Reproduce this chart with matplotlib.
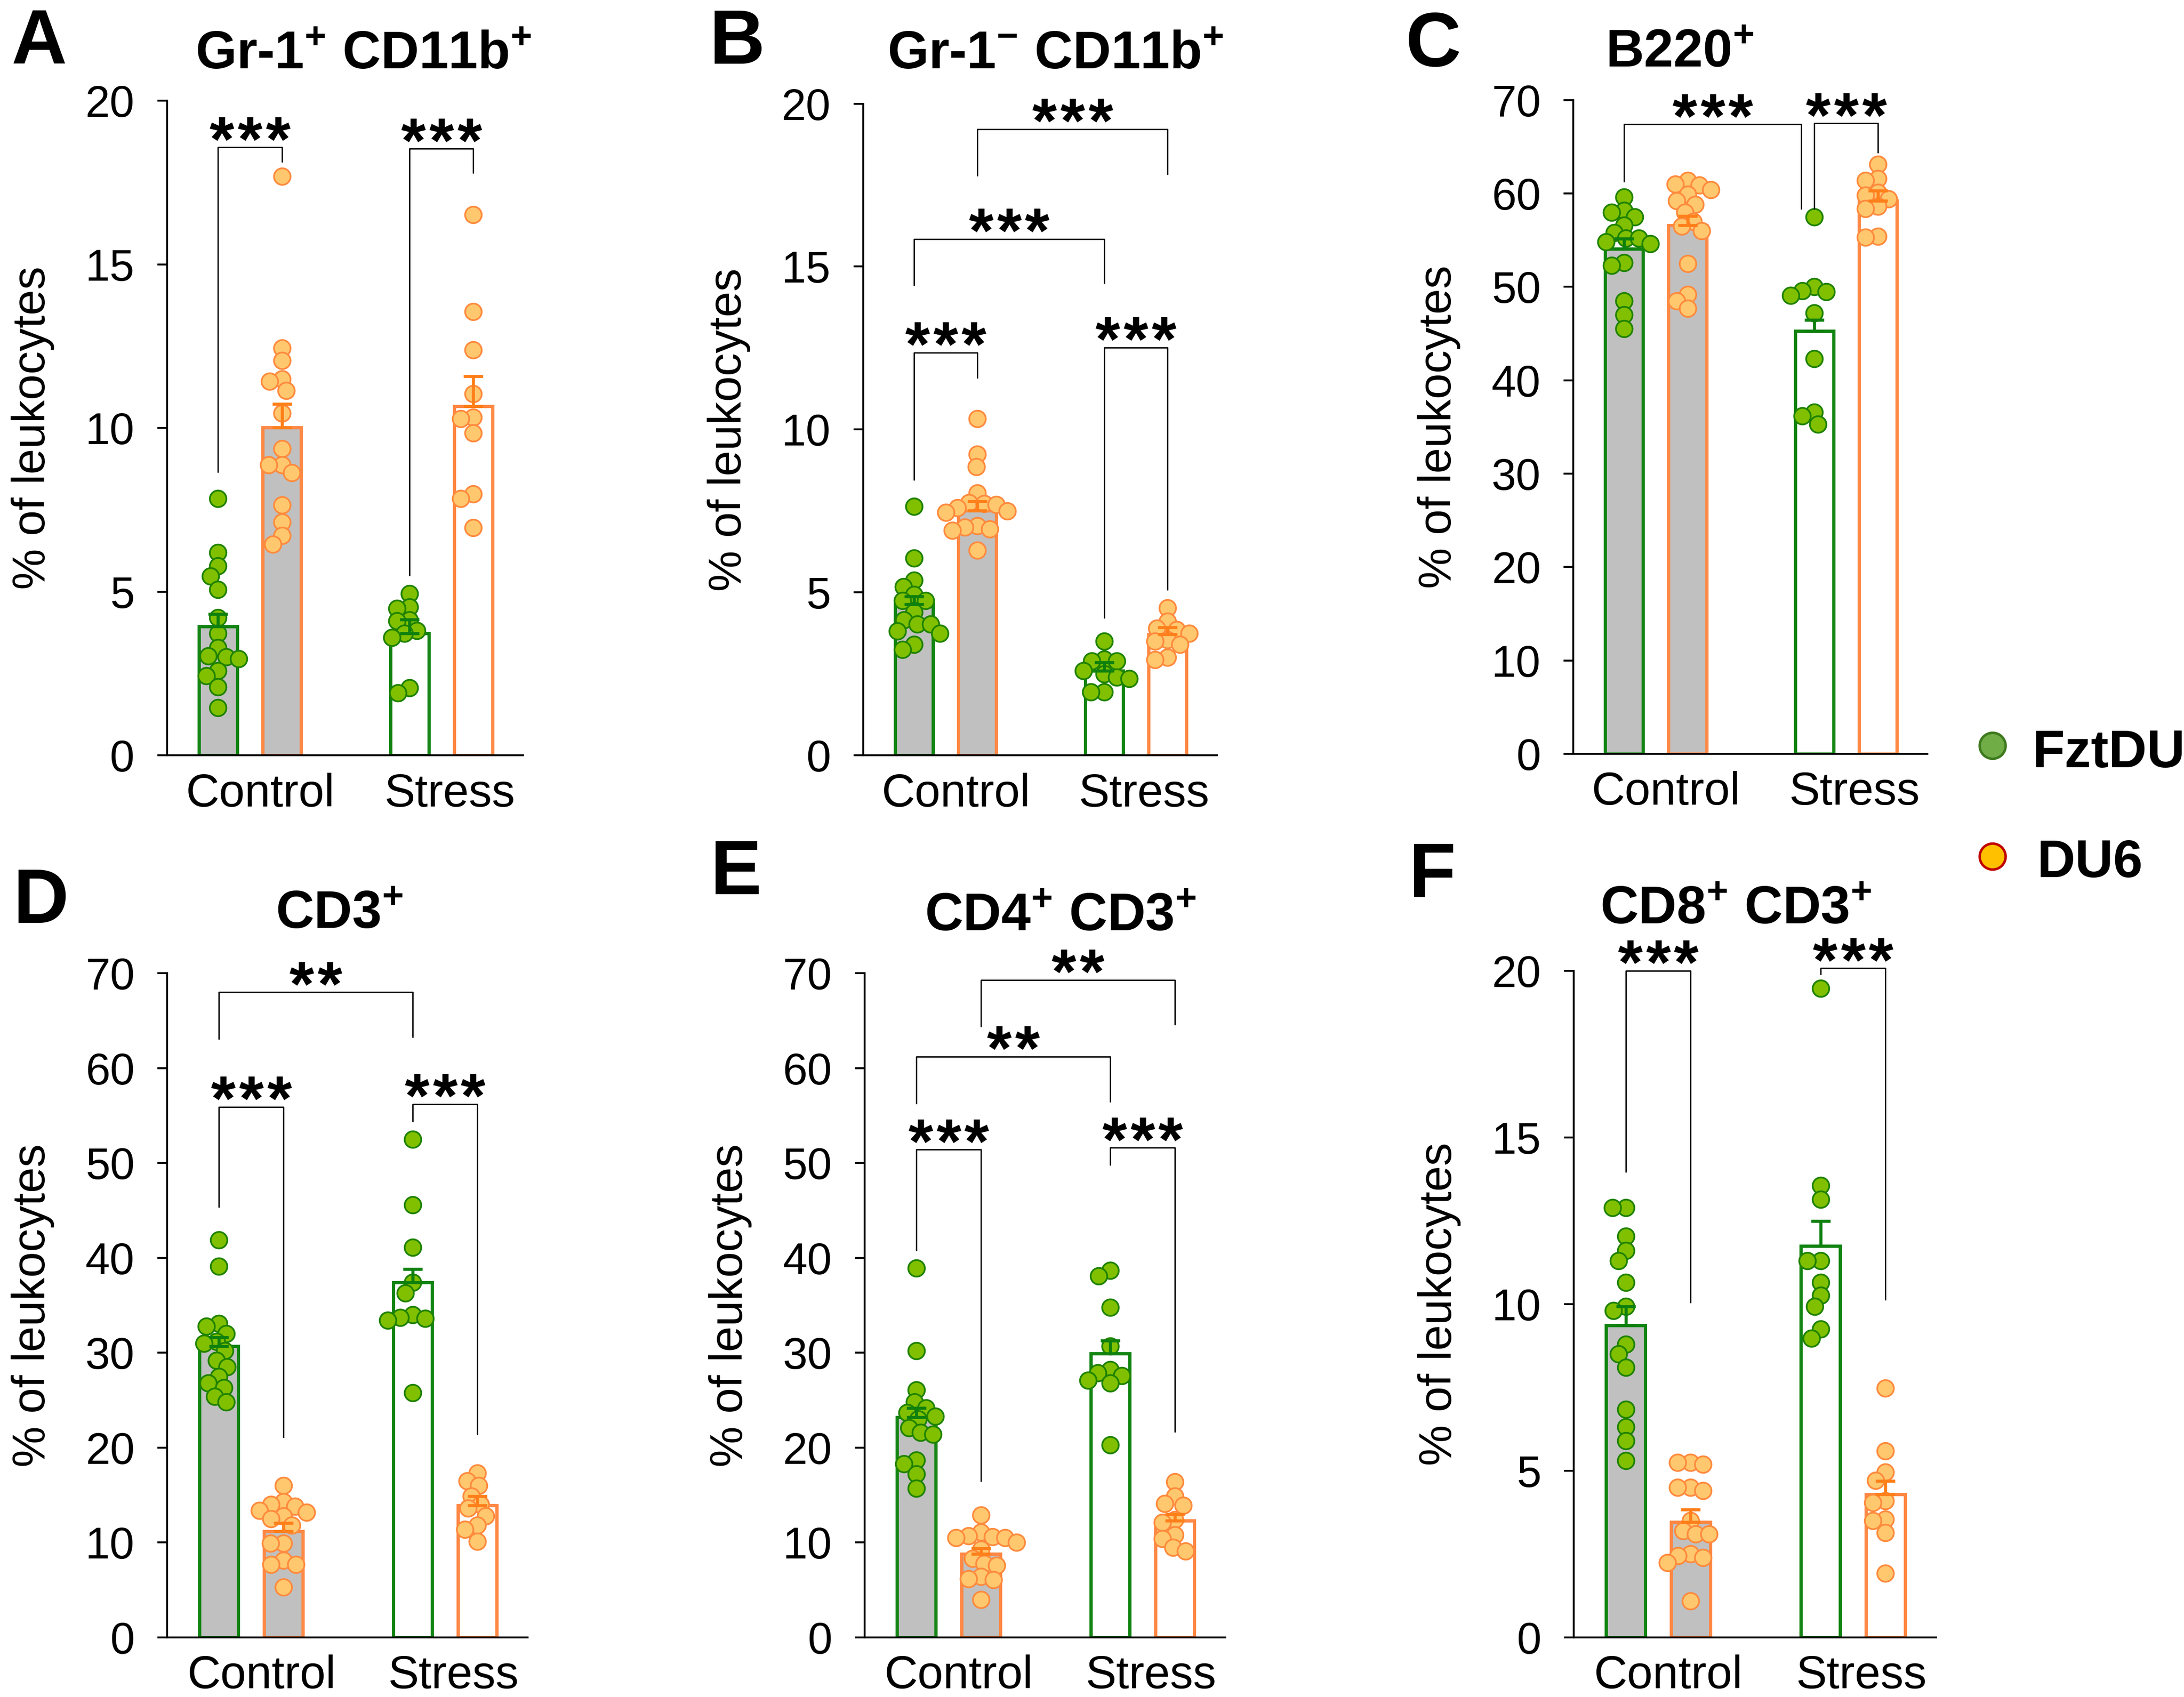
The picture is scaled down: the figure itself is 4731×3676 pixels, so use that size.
import matplotlib
matplotlib.use('Agg')
import matplotlib.pyplot as plt
import numpy as np
from matplotlib.lines import Line2D

plt.rcParams['font.family'] = ['Liberation Sans', 'DejaVu Sans']
plt.rcParams['mathtext.fontset'] = 'custom'
plt.rcParams['mathtext.rm'] = 'Liberation Sans'
plt.rcParams['mathtext.bf'] = 'Liberation Sans:bold'

# group order: FztDU control, DU6 control, FztDU stress, DU6 stress
groups = ['Control', 'Stress']
strains = ['FztDU', 'DU6']

# ---- A: Gr-1+ CD11b+
A_points = [
    [7.85, 6.19, 5.78, 5.47, 5.07, 4.21, 3.72, 3.29, 3.04, 3.0, 2.95, 2.59, 2.43, 2.09, 1.46],
    [17.68, 12.44, 12.06, 11.5, 11.42, 11.14, 10.45, 9.36, 8.87, 8.87, 8.63, 7.64, 7.13, 6.72, 6.45],
    [4.94, 4.53, 4.49, 4.13, 4.10, 3.81, 3.72, 3.60, 2.06, 1.91],
    [16.52, 13.55, 12.39, 11.04, 10.33, 10.28, 9.85, 7.98, 7.85, 6.96],
]
A_means = [3.94, 10.01, 3.72, 10.66]
A_sems = [0.38, 0.73, 0.43, 0.92]
# (group i, group j, top, left leg end, right leg end, label)
A_brackets = [(0, 1, 18.57, 8.66, 18.14, '***'), (2, 3, 18.53, 5.5, 17.8, '***')]

# ---- B: Gr-1- CD11b+
B_points = [
    [7.64, 6.05, 5.37, 5.17, 4.93, 4.75, 4.75, 4.39, 4.15, 4.02, 4.02, 3.82, 3.74, 3.41, 3.25],
    [10.33, 9.24, 8.86, 8.05, 7.75, 7.72, 7.69, 7.6, 7.5, 7.45, 7.05, 7.0, 6.95, 6.9, 6.3],
    [3.5, 2.95, 2.9, 2.9, 2.6, 2.5, 2.4, 2.35, 1.95, 1.95],
    [4.52, 4.11, 3.9, 3.85, 3.75, 3.54, 3.5, 3.41, 3.0, 2.93],
]
B_means = [4.63, 7.51, 2.60, 3.71]
B_sems = [0.25, 0.29, 0.25, 0.22]
B_brackets = [(0, 1, 12.36, 8.46, 11.59, '***'), (2, 3, 12.52, 4.23, 5.09, '***'),
              (0, 2, 15.85, 14.44, 14.50, '***'), (1, 3, 19.22, 17.8, 17.84, '***')]

# ---- C: B220+
C_points = [
    [59.6, 58.2, 58.0, 57.5, 56.6, 55.8, 55.2, 55.2, 54.8, 54.6, 52.6, 52.3, 48.5, 47.0, 45.5],
    [61.4, 61.0, 60.9, 60.4, 59.9, 59.2, 58.8, 58.0, 57.0, 56.5, 56.0, 52.5, 49.2, 48.5, 47.7],
    [57.5, 50.0, 49.6, 49.5, 49.1, 47.2, 42.3, 36.6, 36.2, 35.3],
    [63.1, 61.6, 61.4, 60.1, 59.8, 59.4, 58.6, 58.4, 55.4, 55.3],
]
C_means = [54.07, 56.6, 45.27, 59.2]
C_sems = [1.1, 1.0, 1.2, 1.1]
C_brackets = [(0, 2, 67.4, 61.3, 58.4, '***'), (2, 3, 67.5, 58.4, 64.4, '***')]

# ---- D: CD3+
D_points = [
    [41.9, 39.1, 33.1, 32.8, 32.0, 31.2, 31.0, 30.2, 29.2, 28.5, 27.5, 26.8, 26.3, 25.4, 24.8],
    [16.0, 14.3, 14.0, 13.8, 13.4, 13.2, 12.8, 12.5, 11.8, 9.9, 9.9, 8.1, 7.7, 7.7, 5.3],
    [52.5, 45.6, 41.1, 37.4, 36.3, 34.0, 33.7, 33.6, 33.4, 25.8],
    [17.3, 16.5, 16.0, 14.9, 14.0, 13.6, 12.8, 11.8, 11.4, 10.1],
]
D_means = [30.7, 11.2, 37.4, 13.9]
D_sems = [0.9, 0.85, 1.4, 1.0]
D_brackets = [(0, 1, 55.9, 45.4, 21.1, '***'), (2, 3, 56.2, 54.4, 21.4, '***'),
              (0, 2, 68.0, 63.1, 63.3, '**')]

# ---- E: CD4+ CD3+
E_points = [
    [38.9, 30.2, 26.1, 24.8, 24.2, 23.7, 23.3, 23.0, 22.1, 21.6, 21.4, 18.7, 18.3, 17.2, 15.7],
    [12.9, 11.1, 10.7, 10.6, 10.5, 10.5, 10.0, 9.3, 8.3, 7.8, 7.6, 6.4, 6.2, 6.1, 4.0],
    [38.7, 38.1, 34.8, 30.7, 28.2, 27.9, 27.6, 27.1, 26.8, 20.3],
    [16.4, 14.9, 14.1, 13.9, 12.4, 12.1, 10.8, 10.4, 9.5, 9.1],
]
E_means = [23.2, 8.8, 29.9, 12.3]
E_sems = [1.0, 0.6, 1.4, 0.7]
E_brackets = [(0, 1, 51.4, 40.8, 16.5, '***'), (2, 3, 51.6, 49.8, 21.7, '***'),
              (0, 2, 61.2, 56.3, 56.5, '**'), (1, 3, 69.3, 64.4, 64.6, '**')]

# ---- F: CD8+ CD3+
F_points = [
    [12.9, 12.9, 12.04, 11.6, 11.3, 10.65, 9.93, 9.8, 8.8, 8.5, 8.1, 6.84, 6.32, 5.9, 5.31],
    [5.25, 5.25, 5.2, 4.5, 4.5, 4.4, 3.5, 3.2, 3.1, 3.1, 2.5, 2.45, 2.4, 2.25, 1.1],
    [19.47, 13.56, 13.15, 11.3, 11.3, 10.65, 10.27, 9.93, 9.25, 8.98],
    [7.48, 5.6, 4.96, 4.71, 4.1, 4.05, 3.55, 3.5, 3.14, 1.93],
]
F_means = [9.36, 3.46, 11.75, 4.3]
F_sems = [0.57, 0.37, 0.75, 0.4]
F_brackets = [(0, 1, 20.0, 13.97, 10.06, '***'), (2, 3, 20.08, 19.9, 10.14, '***')]

W, H = 4731, 3676
fig = plt.figure(figsize=(W / 300, H / 300), dpi=300)

positions = [0, 1, 3, 4]
xlim = (-0.8, 4.78)
bar_w = 0.6
fills = ['#C0C0C0', '#C0C0C0', 'white', 'white']
edges = ['#118411', '#FF8844', '#118411', '#FF8844']
err_cols = ['#0E800E', '#FF7F1A', '#0E800E', '#FF7F1A']
pt_face = ['#80C000', '#FFC86E', '#80C000', '#FFC86E']
pt_edge = ['#1F8200', '#FF8A3D', '#1F8200', '#FF8A3D']
dot_pt = 8.6
star_pitch = 14.6  # points between asterisk centres

panels = [
    ('A', [0.0765, 0.5549, 0.1630, 0.3858], r'Gr-1$^{\mathbf{+}}$ CD11b$^{\mathbf{+}}$', (0.1664, 0.9594), (0.0053, 0.9625), 20, 5, A_points, A_means, A_sems, A_brackets),
    ('B', [0.3953, 0.5549, 0.1619, 0.3840], r'Gr-1$^{\mathbf{-}}$ CD11b$^{\mathbf{+}}$', (0.4833, 0.9594), (0.3249, 0.9625), 20, 5, B_points, B_means, B_sems, B_brackets),
    ('C', [0.7204, 0.5558, 0.1621, 0.3852], r'B220$^{\mathbf{+}}$', (0.7690, 0.9605), (0.6434, 0.9610), 70, 10, C_points, C_means, C_sems, C_brackets),
    ('D', [0.0766, 0.0351, 0.1650, 0.3914], r'CD3$^{\mathbf{+}}$', (0.1553, 0.4530), (0.0061, 0.4562), 70, 10, D_points, D_means, D_sems, D_brackets),
    ('E', [0.3959, 0.0351, 0.1651, 0.3914], r'CD4$^{\mathbf{+}}$ CD3$^{\mathbf{+}}$', (0.4856, 0.4515), (0.3253, 0.4730), 70, 10, E_points, E_means, E_sems, E_brackets),
    ('F', [0.7206, 0.0351, 0.1659, 0.3928], r'CD8$^{\mathbf{+}}$ CD3$^{\mathbf{+}}$', (0.7948, 0.4556), (0.6450, 0.4714), 20, 5, F_points, F_means, F_sems, F_brackets),
]


def swarm(vals, xpx, ypx, d):
    # simple beeswarm in pixel space, returns x offsets in data units
    placed = []
    offs = np.zeros(len(vals))
    cands = sorted(np.arange(-4, 4.001, 0.05) * d, key=lambda c: (abs(round(c, 6)), c))
    for k, v in enumerate(vals):
        y = v * ypx
        for c in cands:
            if all((c - px) ** 2 + (y - py) ** 2 >= (0.75 * d) ** 2 for px, py in placed):
                break
        offs[k] = c
        placed.append((c, y))
    return offs / xpx


for letter, rect, title, tpos, lpos, ymax, step, pts, means, sems, brackets in panels:
    ax = fig.add_axes(rect)
    ax.set_xlim(*xlim)
    ax.set_ylim(0, ymax)
    xpx = rect[2] * W / (xlim[1] - xlim[0])
    ypx = rect[3] * H / ymax
    d = dot_pt / 72 * 300

    for k in range(4):
        b = ax.bar(positions[k], means[k], width=bar_w, color=fills[k], edgecolor=edges[k],
                   linewidth=1.7, zorder=1)
        for p in b:
            p.set_joinstyle('miter')
        offs = swarm(pts[k], xpx, ypx, d)
        ax.plot(positions[k] + offs, pts[k], 'o', ms=dot_pt, mfc=pt_face[k], mec=pt_edge[k],
                mew=0.9, ls='none', zorder=2, clip_on=False)
        ax.errorbar(positions[k], means[k], yerr=[[0], [sems[k]]], fmt='none', ecolor=err_cols[k],
                    elinewidth=1.6, capsize=5, capthick=1.6, zorder=3)

    for i, j, top, l_end, r_end, lab in brackets:
        x1, x2 = positions[i], positions[j]
        if letter == 'C' and (i, j) == (0, 2):
            x2 = x2 - 0.21
        ax.plot([x1, x1, x2, x2], [l_end, top, top, r_end], color='black', lw=0.7,
                clip_on=False, zorder=4)
        n = len(lab)
        for s in range(n):
            dx = (s - (n - 1) / 2) * star_pitch
            ax.annotate('*', xy=((x1 + x2) / 2, top), xytext=(dx, -7), textcoords='offset points',
                        ha='center', va='baseline', fontsize=33, fontweight='bold',
                        annotation_clip=False)

    ax.set_yticks(np.arange(0, ymax + 1, step))
    ax.set_xticks([0.66, 3.63])
    ax.set_xticklabels(groups)
    ax.tick_params(axis='y', length=5, width=1, pad=12, labelsize=23, direction='out')
    ax.tick_params(axis='x', length=0, pad=9, labelsize=24)
    for s in ['top', 'right']:
        ax.spines[s].set_visible(False)
    for s in ['left', 'bottom']:
        ax.spines[s].set_linewidth(1.0)
    ax.set_ylabel('% of leukocytes', fontsize=24, labelpad=16)

    fig.text(tpos[0], tpos[1], title, ha='center', va='baseline', fontsize=27.5, fontweight='bold')
    fig.text(lpos[0], lpos[1], letter, ha='left', va='baseline', fontsize=40, fontweight='bold')

# legend
fig.add_artist(Line2D([0.9123], [0.5607], transform=fig.transFigure, marker='o', ms=13.5,
                      mfc='#70AD47', mec='#3E7A1E', mew=1.3, ls='none'))
fig.text(0.9305, 0.548, strains[0], fontsize=27.5, fontweight='bold', ha='left', va='baseline')
fig.add_artist(Line2D([0.9123], [0.4954], transform=fig.transFigure, marker='o', ms=13.5,
                      mfc='#FFC000', mec='#C00000', mew=1.3, ls='none'))
fig.text(0.9326, 0.483, strains[1], fontsize=27.5, fontweight='bold', ha='left', va='baseline')

fig.savefig('out.png', dpi=300)
